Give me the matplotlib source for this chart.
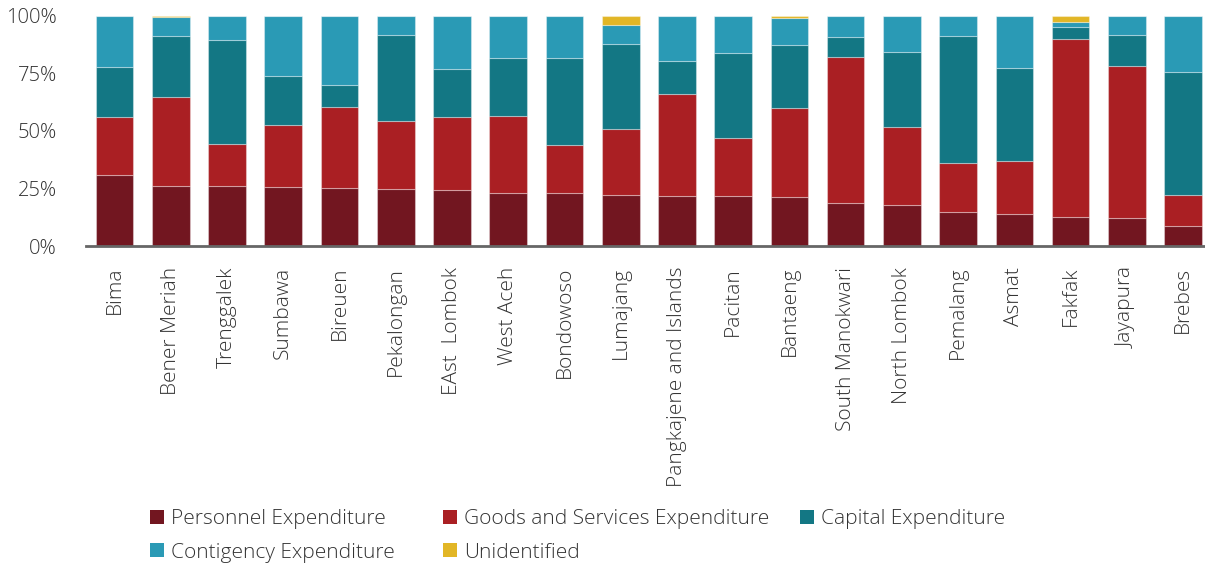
import matplotlib
matplotlib.use("Agg")
import matplotlib.pyplot as plt
from matplotlib.patches import Patch
import numpy as np

regions = ["Bima", "Bener Meriah", "Trenggalek", "Sumbawa", "Bireuen", "Pekalongan",
           "EAst  Lombok", "West Aceh", "Bondowoso", "Lumajang", "Pangkajene and Islands",
           "Pacitan", "Bantaeng", "South Manokwari", "North Lombok", "Pemalang", "Asmat",
           "Fakfak", "Jayapura", "Brebes"]

personnel   = [30.9, 26.1, 26.1, 25.5, 25.3, 24.6, 24.2, 22.9, 22.9, 22.0, 21.6, 21.6, 21.1, 18.5, 17.8, 14.6, 13.8, 12.7, 12.0, 8.6]
goods       = [25.1, 38.5, 18.1, 26.9, 35.2, 29.5, 31.7, 33.4, 20.8, 28.8, 44.3, 25.2, 38.7, 63.4, 33.7, 21.3, 23.3, 77.0, 66.0, 13.4]
capital     = [21.7, 26.7, 45.1, 21.3, 9.5, 37.4, 20.8, 25.2, 37.8, 37.0, 14.6, 37.1, 27.3, 8.7, 32.6, 55.1, 40.0, 5.3, 13.5, 53.6]
contingency = [22.1, 8.2, 10.7, 26.3, 30.0, 8.5, 23.3, 18.5, 18.5, 8.3, 19.5, 16.1, 11.9, 9.4, 15.9, 9.0, 22.9, 2.2, 8.5, 24.4]
unidentified= [0.2, 0.5, 0.0, 0.0, 0.0, 0.0, 0.0, 0.0, 0.0, 3.9, 0.0, 0.0, 1.0, 0.0, 0.0, 0.0, 0.0, 2.8, 0.0, 0.0]

series_names = ["Personnel Expenditure", "Goods and Services Expenditure", "Capital Expenditure",
                "Contigency Expenditure", "Unidentified"]
colors = ["#721620", "#AA1F23", "#137784", "#2A9AB5", "#E2B626"]

plt.rcParams['font.family'] = ['Open Sans', 'DejaVu Sans']
plt.rcParams['font.weight'] = 'light'

fig = plt.figure(figsize=(12.05, 5.64), dpi=100)
ax = fig.add_axes([86/1205, 1-246/564, (1205-86)/1205, (246-15.7)/564])

data = [personnel, goods, capital, contingency, unidentified]
x = np.arange(len(regions))
bottom = np.zeros(len(regions))
for vals, col, name in zip(data, colors, series_names):
    v = np.array(vals)
    ax.bar(x, v, bottom=bottom, width=0.67, color=col, edgecolor=(1, 1, 1, 0.35),
           linewidth=0.8, label=name)
    bottom += v

ax.set_xlim(-0.507, 19.39)
ax.set_ylim(0, 100)
ax.set_yticks([0, 25, 50, 75, 100])
ax.set_yticklabels(["0%", "25%", "50%", "75%", "100%"])
ax.set_xticks(x)
ax.set_xticklabels(regions, rotation=90, va='top', ha='center')
ax.tick_params(axis='both', length=0, colors='#333333')
ax.tick_params(axis='x', pad=15, labelsize=15)
ax.tick_params(axis='y', pad=21, labelsize=14.5)
for s in ['top', 'right', 'left']:
    ax.spines[s].set_visible(False)
ax.spines['bottom'].set_color('#666666')
ax.spines['bottom'].set_linewidth(2)

# legend: three columns placed at the reference's positions
columns = [([0, 3], 150), ([1, 4], 443), ([2], 800)]
for idxs, xpx in columns:
    handles = [Patch(facecolor=colors[i], edgecolor='none') for i in idxs]
    labels = [series_names[i] for i in idxs]
    lg = fig.legend(handles, labels, loc='upper left', bbox_to_anchor=(xpx/1205, 1-509/564),
                    ncol=1, frameon=False, fontsize=15, handlelength=0.65, handleheight=0.65,
                    handletextpad=0.35, labelspacing=0.65, labelcolor='#333333',
                    borderpad=0, borderaxespad=0)

fig.savefig("out.png", dpi=100)
